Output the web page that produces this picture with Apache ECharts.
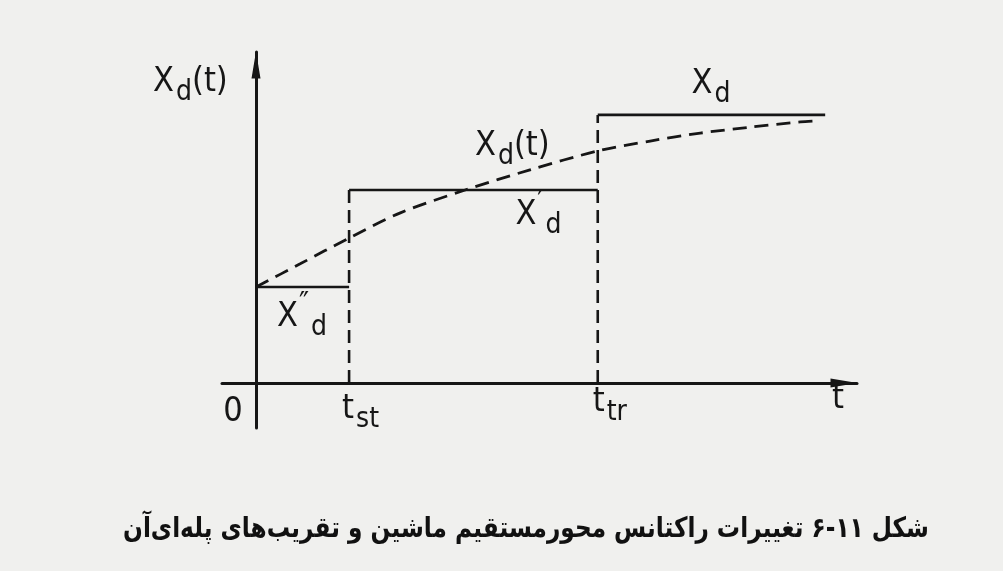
<!DOCTYPE html>
<html>
<head>
<meta charset="utf-8">
<script src="https://cdn.jsdelivr.net/npm/echarts@6/dist/echarts.min.js"></script>
<style>
  html, body { margin: 0; padding: 0; background: #f0f0ee; }
  #chart { width: 1003px; height: 571px; }
</style>
</head>
<body>
<div id="chart"></div>
<script>
// Switching instants on the time axis
const tSt = 1.58;     // t_st
const tTr = 5.8;      // t_tr
const tEnd = 9.66;    // end of the steady-state segment

// Step approximation levels of the direct-axis reactance
const xdSub = 2.9;    // X''d
const xdTrans = 5.83; // X'd
const xdSync = 8.1;   // Xd

// Continuous reactance Xd(t), sampled
const curveT = [0, 0.75, 1.58, 2.45, 3.55, 4.65, 5.8, 6.69, 7.54, 8.39, 9.24, 9.52];
const curveX = [2.9, 3.6, 4.38, 5.14, 5.83, 6.44, 7.01, 7.31, 7.55, 7.73, 7.89, 7.92];

// Caption
const caption = 'شکل ۱۱-۶ تغییرات راکتانس محورمستقیم ماشین و تقریب‌های پله‌ای‌آن';

const ink = '#161616';
const latin = "'Liberation Sans Narrow','DejaVu Sans Condensed',Roboto,'DejaVu Sans',sans-serif";

const rich = {
  m: { fontSize: 34, fontFamily: latin, color: ink },
  s: { fontSize: 28, fontFamily: latin, color: ink, padding: [21, 0, 0, 2] },
  q: { fontSize: 30, fontFamily: latin, color: ink, padding: [0, 0, 24, 1] }
};

const seg = (pts, dashed) => ({
  type: 'line',
  data: pts,
  showSymbol: false,
  silent: true,
  animation: false,
  lineStyle: { color: ink, width: 2.6, type: dashed ? [13, 7] : 'solid' }
});

// Text annotations anchored to data points, shifted in pixels
const notes = [
  { at: [0, 10],  text: '{m|X}{s|d}{m|(t)}', off: [-103, 30] },
  { at: [curveT[5], curveX[5]], text: '{m|X}{s|d}{m|(t)}', off: [-55, -24] },
  { at: [(tTr + tEnd) / 2, xdSync], text: '{m|X}{s|d}', off: [-20, -31] },
  { at: [(tSt + tTr) / 2, xdTrans], text: '{m|X}{q|′}{s|d}', off: [42, 25] },
  { at: [0, xdSub], text: '{m|X}{q|″}{s|d}', off: [21, 30] },
  { at: [0, 0], text: '{m|0}', off: [-23, 29], align: 'center' },
  { at: [tSt, 0], text: '{m|t}{s|st}', off: [-7, 26] },
  { at: [tTr, 0], text: '{m|t}{s|tr}', off: [-5, 19] },
  { at: [10.2, 0], text: '{m|t}', off: [-19, 16], align: 'center' }
];

const axisBase = {
  type: 'value',
  splitLine: { show: false },
  axisTick: { show: false },
  axisLabel: { show: false },
  axisLine: {
    show: true,
    onZero: true,
    symbol: ['none', 'triangle'],
    symbolSize: [9, 27],
    symbolOffset: [0, -13],
    lineStyle: { color: ink, width: 3 }
  }
};

const chart = echarts.init(document.getElementById('chart'), null, { renderer: 'canvas' });
chart.setOption({
  backgroundColor: '#f0f0ee',
  animation: false,
  grid: { left: 222, right: 146, top: 52, bottom: 143, containLabel: false },
  xAxis: Object.assign({}, axisBase, { min: -0.577, max: 10.2 }),
  yAxis: Object.assign({}, axisBase, { min: -1.36, max: 10 }),
  graphic: [{
    type: 'text',
    x: 526,
    y: 530,
    scaleX: 0.83,
    style: {
      text: caption,
      font: "bold 28px 'DejaVu Sans', sans-serif",
      fill: '#111',
      align: 'center',
      verticalAlign: 'middle'
    }
  }],
  series: [
    seg([[0, xdSub], [tSt, xdSub]], false),
    seg([[tSt, xdTrans], [tTr, xdTrans]], false),
    seg([[tTr, xdSync], [tEnd, xdSync]], false),
    seg([[tSt, 0], [tSt, xdTrans]], true),
    seg([[tTr, 0], [tTr, xdSync]], true),
    Object.assign(seg(curveT.map((t, i) => [t, curveX[i]]), true), {
      smooth: 0.3,
      lineStyle: { color: ink, width: 2.8, type: [14, 8] }
    }),
    {
      type: 'scatter',
      clip: false,
      silent: true,
      symbolSize: 0,
      itemStyle: { opacity: 1 },
      data: notes.map(n => ({
        value: n.at,
        label: {
          show: true,
          position: 'inside',
          align: n.align || 'left',
          verticalAlign: 'middle',
          offset: n.off,
          formatter: n.text,
          rich: rich
        }
      }))
    }
  ]
});
</script>
</body>
</html>
